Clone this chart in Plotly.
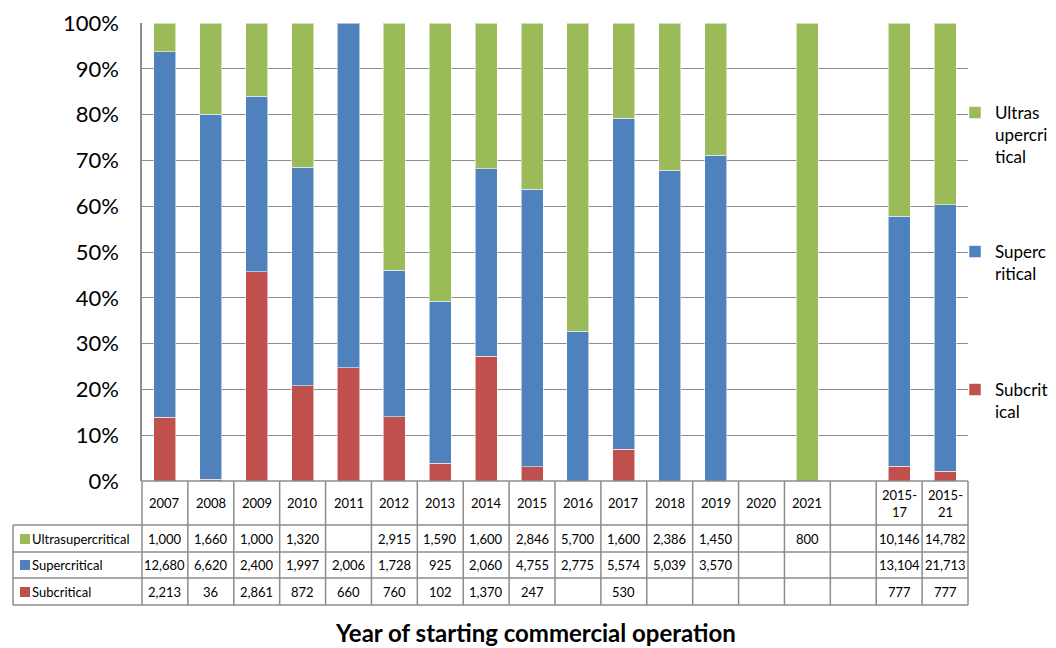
import plotly.graph_objects as go

# ---------------- data ----------------
categories = ["2007", "2008", "2009", "2010", "2011", "2012", "2013", "2014", "2015",
              "2016", "2017", "2018", "2019", "2020", "2021", " ", "2015-17", "2015-21"]
header_labels = ["2007", "2008", "2009", "2010", "2011", "2012", "2013", "2014", "2015",
                 "2016", "2017", "2018", "2019", "2020", "2021", "", "2015-<br>17", "2015-<br>21"]
ultrasupercritical = [1000, 1660, 1000, 1320, None, 2915, 1590, 1600, 2846,
                      5700, 1600, 2386, 1450, None, 800, None, 10146, 14782]
supercritical = [12680, 6620, 2400, 1997, 2006, 1728, 925, 2060, 4755,
                 2775, 5574, 5039, 3570, None, None, None, 13104, 21713]
subcritical = [2213, 36, 2861, 872, 660, 760, 102, 1370, 247,
               None, 530, None, None, None, None, None, 777, 777]

series_names = ["Subcritical", "Supercritical", "Ultrasupercritical"]
series_values = [subcritical, supercritical, ultrasupercritical]
legend_labels = ["Subcrit<br>ical", "Superc<br>ritical", "Ultras<br>upercri<br>tical"]
colors = ["#C0504D", "#4F81BD", "#9BBB59"]
y_ticks = [0, 0.1, 0.2, 0.3, 0.4, 0.5, 0.6, 0.7, 0.8, 0.9, 1.0]
x_title = "Year of starting commercial operation"

# ---------------- layout helpers (reference pixel -> paper / container) ----------------
OFF = 8                      # page body margin
W, H = 1056 - OFF, 648 - OFF
L, R, T, B = 142, 968, 23, 481   # plot area in reference-page pixels
FONT = "Lato"
GRID = "#8c8c8c"


def px(x):
    return (x - L) / (R - L)


def py(y):
    return (B - y) / (B - T)


def cx(x):
    return (x - OFF) / W


def cy(y):
    return 1 - (y - OFF) / H


fig = go.Figure()
legend_ids = ["legend3", "legend2", "legend"]
for name, vals, lab, col, lid in zip(series_names, series_values, legend_labels, colors, legend_ids):
    fig.add_trace(go.Bar(
        x=categories, y=vals, name=lab, marker_color=col,
        marker_line=dict(color="rgba(255,255,255,0.55)", width=1),
        legend=lid, showlegend=True, hoverinfo="skip",
    ))

shapes = []
annotations = []
line = dict(color=GRID, width=1.5)

# horizontal table lines
for yy in [525, 552, 578, 605]:
    shapes.append(dict(type="line", xref="paper", yref="paper", x0=px(13), x1=1,
                       y0=py(yy), y1=py(yy), line=line, layer="above"))
shapes.append(dict(type="line", xref="paper", yref="paper", x0=0, x1=1,
                   y0=0, y1=0, line=line, layer="above"))
# vertical table lines
shapes.append(dict(type="line", xref="paper", yref="paper", x0=px(13), x1=px(13),
                   y0=py(525), y1=py(605), line=line))
shapes.append(dict(type="line", xref="paper", yref="paper", x0=0, x1=0,
                   y0=py(481), y1=py(605), line=line))
shapes.append(dict(type="line", xref="paper", yref="paper", x0=1, x1=1,
                   y0=py(481), y1=py(605), line=line))
for i in range(1, len(categories)):
    shapes.append(dict(type="line", xref="x", yref="paper", x0=i - 0.5, x1=i - 0.5,
                       y0=py(481), y1=py(605), line=line))

cell_font = dict(family=FONT, size=13, color="#000")

# header row
for i, lab in enumerate(header_labels):
    if lab:
        annotations.append(dict(x=i, xref="x", y=py(503), yref="paper", text=lab,
                                showarrow=False, font=cell_font,
                                xanchor="center", yanchor="middle"))

# data rows
row_series = [("Ultrasupercritical", ultrasupercritical, "#9BBB59", 539),
              ("Supercritical", supercritical, "#4F81BD", 565),
              ("Subcritical", subcritical, "#C0504D", 592)]
for name, vals, col, yy in row_series:
    shapes.append(dict(type="rect", xref="paper", yref="paper", x0=px(20), x1=px(30),
                       y0=py(yy - 5), y1=py(yy + 5), fillcolor=col, line=dict(width=0)))
    annotations.append(dict(x=px(30), xref="paper", y=py(yy), yref="paper", text=name,
                            showarrow=False, font=cell_font,
                            xanchor="left", yanchor="middle"))
    for i, v in enumerate(vals):
        if v is not None:
            annotations.append(dict(x=i, xref="x", y=py(yy), yref="paper", text=f"{v:,}",
                                    showarrow=False, font=cell_font,
                                    xanchor="center", yanchor="middle"))

# axis title
annotations.append(dict(x=px(535), xref="paper", y=py(632), yref="paper", text=f"<b>{x_title}</b>",
                        showarrow=False, font=dict(family=FONT, size=24, color="#000"),
                        xanchor="center", yanchor="middle"))

leg_common = dict(xref="container", yref="container", xanchor="left", yanchor="top", valign="top",
                  font=dict(family=FONT, size=17, color="#000"), bgcolor="rgba(0,0,0,0)",
                  itemwidth=30, visible=True)

fig.update_layout(
    width=W, height=H,
    margin=dict(l=L - OFF, r=W - (R - OFF), t=T - OFF, b=H - (B - OFF), pad=0,
                autoexpand=False),
    paper_bgcolor="white", plot_bgcolor="white",
    barmode="stack", barnorm="fraction", bargap=0.52,
    showlegend=True,
    font=dict(family=FONT, color="#000"),
    xaxis=dict(type="category", categoryorder="array", categoryarray=categories,
               range=[-0.5, len(categories) - 0.5], showticklabels=False, ticks="",
               showgrid=False, showline=False, zeroline=False, fixedrange=True,
               automargin=False),
    yaxis=dict(range=[0, 1], tickvals=y_ticks, tickformat=".0%", showgrid=True,
               gridcolor=GRID, gridwidth=1.3, showline=True, linecolor=GRID, linewidth=1.5,
               ticks="", ticklabelstandoff=17, zeroline=False, automargin=False,
               tickfont=dict(family=FONT, size=22, color="#000"), fixedrange=True),
    legend=dict(x=cx(955), y=cy(95), **leg_common),
    legend2=dict(x=cx(955), y=cy(234), **leg_common),
    legend3=dict(x=cx(955), y=cy(372), **leg_common),
    shapes=shapes, annotations=annotations,
)

fig.write_html("out.html")
